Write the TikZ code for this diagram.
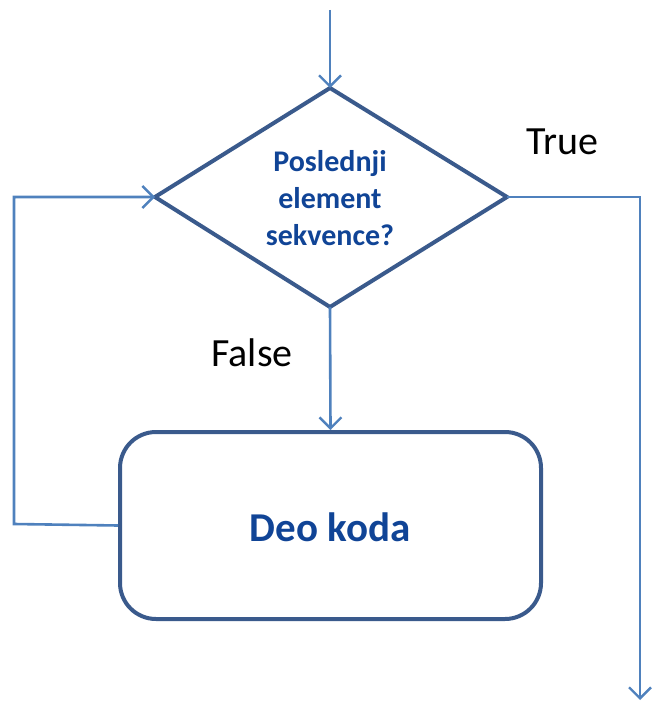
\documentclass[tikz,border=0pt]{standalone}
\usepackage{fontspec}
\setmainfont{Carlito}
\usetikzlibrary{arrows.meta,shapes.geometric}
\definecolor{shapeline}{RGB}{58,90,140}
\definecolor{conn}{RGB}{79,129,189}
\definecolor{txtblue}{RGB}{16,68,150}
\tikzset{
  conline/.style={draw=conn,line width=2.6pt,-{Straight Barb[length=11pt,width=22pt,line width=2.4pt]}},
  conplain/.style={draw=conn,line width=2.6pt},
  bold text/.style={text=txtblue,font=\bfseries},
}
\begin{document}
\begin{tikzpicture}[x=1pt,y=-1pt]
\useasboundingbox (0,0) rectangle (652,711);
% diamond
\coordinate (dtop) at (330,88);
\coordinate (dleft) at (155,197);
\coordinate (dright) at (507,197);
\coordinate (dbot) at (330,307);
\draw[shapeline,line width=4pt,line join=miter] (dtop) -- (dright) -- (dbot) -- (dleft) -- cycle;
\node[bold text,font=\bfseries\fontsize{30}{37}\selectfont,align=center] (q) at (330,198) {Poslednji\\element\\sekvence?};
% rounded rectangle
\node[draw=shapeline,line width=4pt,rounded corners=36pt,minimum width=421pt,minimum height=187pt,inner sep=0pt] (box) at (330.5,525.5) {};
\node[bold text,font=\bfseries\fontsize{41}{48}\selectfont] (code) at (330,527) {Deo koda};
% connectors
\coordinate (start) at (330,10);
\coordinate (lc) at (14,524);
\coordinate (lt) at (14,197);
\coordinate (rc) at (640,197);
\coordinate (endp) at (640,700);
\draw[conline] (start) -- (dtop);
\draw[conline] (dbot) -- (box.north);
\draw[conline] (box.west) -- (lc) -- (lt) -- (dleft);
\draw[conline] (dright) -- (rc) -- (endp);
% labels
\node[font=\fontsize{40}{48}\selectfont] (t) at (562,142) {True};
\node[font=\fontsize{40}{48}\selectfont] (f) at (252,353) {False};
\end{tikzpicture}
\end{document}
